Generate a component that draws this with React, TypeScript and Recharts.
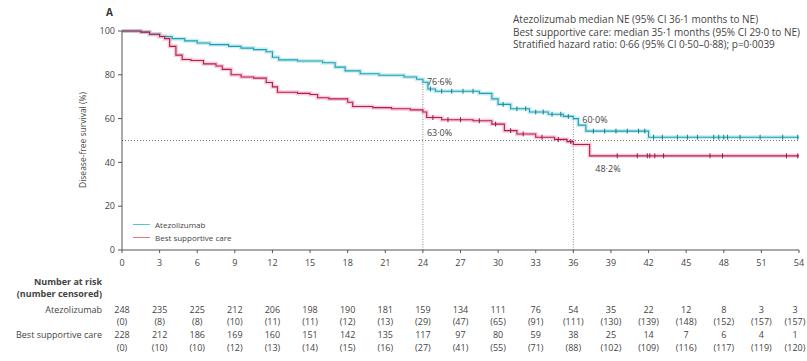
import React from "react";
import {
  ComposedChart,
  Line,
  Scatter,
  XAxis,
  YAxis,
  ReferenceLine,
  ReferenceDot,
  Legend,
} from "recharts";

// x-axis ticks (months)
const months = [0, 3, 6, 9, 12, 15, 18, 21, 24, 27, 30, 33, 36, 39, 42, 45, 48, 51, 54];
const yTicks = [0, 20, 40, 60, 80, 100];

// Kaplan-Meier steps
const atezoT = [0, 1.5, 2.2, 3.0, 4.0, 5.0, 6.0, 7.0, 8.5, 9.5, 10.5, 11.5, 12.0, 12.5, 14.0, 16.0, 17.0, 17.8, 19.0, 20.5, 22.5, 23.5, 24.0, 24.4, 25.0, 28.5, 29.5, 30.0, 31.0, 32.5, 34.0, 35.2, 36.0, 36.4, 37.0, 42.0, 54];
const atezoS = [100, 99.5, 98.5, 97.5, 96.5, 95.5, 94.5, 93.8, 93.0, 92.2, 91.5, 90.5, 88.0, 86.8, 86.3, 85.5, 83.5, 81.8, 80.5, 79.8, 79.0, 78.0, 76.6, 73.5, 72.5, 71.5, 69.0, 66.5, 64.5, 63.0, 62.0, 61.0, 60.0, 57.0, 54.3, 51.5, 51.5];

const bscT = [0, 1.5, 2.2, 3.0, 3.4, 3.8, 4.3, 4.8, 5.5, 6.5, 7.5, 8.0, 8.7, 9.5, 10.5, 11.5, 12.0, 12.4, 14.0, 15.0, 15.6, 16.5, 18.0, 18.4, 20.0, 21.5, 23.0, 24.0, 24.3, 25.5, 28.0, 29.5, 30.5, 31.5, 33.0, 34.5, 35.5, 36.0, 37.3, 54];
const bscS = [100, 99.5, 98.5, 97.5, 96.5, 93.0, 89.0, 87.0, 86.5, 85.0, 84.0, 82.5, 80.0, 79.0, 78.5, 76.5, 74.5, 72.0, 71.5, 71.0, 69.5, 69.0, 67.5, 65.5, 65.0, 64.5, 64.0, 63.0, 60.5, 59.5, 59.0, 57.5, 54.5, 53.0, 51.5, 50.5, 49.5, 48.2, 43.0, 43.0];

// censoring marks
const atezoCensT = [24.6, 25.5, 26.3, 27.2, 28.0, 30.4, 31.5, 32.2, 33.0, 33.6, 34.3, 35.0, 35.6, 37.6, 38.5, 39.4, 40.3, 41.2, 41.7, 42.4, 43.1, 44.3, 45.1, 45.9, 47.2, 47.6, 48.0, 48.3, 49.3, 50.9, 52.7, 53.9];
const atezoCensS = [73.5, 72.5, 72.5, 72.5, 72.5, 66.5, 64.5, 64.5, 63.0, 63.0, 62.0, 62.0, 61.0, 54.3, 54.3, 54.3, 54.3, 54.3, 54.3, 51.5, 51.5, 51.5, 51.5, 51.5, 51.5, 51.5, 51.5, 51.5, 51.5, 51.5, 51.5, 51.5];
const bscCensT = [24.8, 26.0, 27.0, 28.5, 29.8, 31.0, 32.0, 33.5, 34.8, 35.8, 39.5, 41.1, 41.9, 42.1, 42.5, 43.2, 46.9, 47.9, 53.0, 53.9];
const bscCensS = [60.5, 59.5, 59.5, 59.0, 57.5, 54.5, 53.0, 51.5, 50.5, 49.5, 43.0, 43.0, 43.0, 43.0, 43.0, 43.0, 43.0, 43.0, 43.0, 43.0];

// number at risk table
const atezoAtRisk = [248, 235, 225, 212, 206, 198, 190, 181, 159, 134, 111, 76, 54, 35, 22, 12, 8, 3, 3];
const atezoCensored = [0, 8, 8, 10, 11, 11, 12, 13, 29, 47, 65, 91, 111, 130, 139, 148, 152, 157, 157];
const bscAtRisk = [228, 212, 186, 169, 160, 151, 142, 135, 117, 97, 80, 59, 38, 25, 14, 7, 6, 4, 1];
const bscCensored = [0, 10, 10, 12, 13, 14, 15, 16, 27, 41, 55, 71, 88, 102, 109, 116, 117, 119, 120];

const seriesNames = ["Atezolizumab", "Best supportive care"];
const annotation = [
  "Atezolizumab median NE (95% CI 36·1 months to NE)",
  "Best supportive care: median 35·1 months (95% CI 29·0 to NE)",
  "Stratified hazard ratio: 0·66 (95% CI 0·50–0·88); p=0·0039",
];

const FONT = "'Open Sans', sans-serif";
const FS = 9;
const TEXT = "#444";
const CYAN = "#1f9db2";
const CYAN_HALO = "#8fd9e6";
const RED = "#b21f4b";
const RED_HALO = "#f28aa6";

const atezoData = atezoT.map((t, i) => ({ t, s: atezoS[i] }));
const bscData = bscT.map((t, i) => ({ t, s: bscS[i] }));
const atezoCens = atezoCensT.map((t, i) => ({ t, s: atezoCensS[i] }));
const bscCens = bscCensT.map((t, i) => ({ t, s: bscCensS[i] }));

const censorMark = (color: string) => (p: any) => (
  <line x1={p.cx} x2={p.cx} y1={p.cy - 2.5} y2={p.cy + 2.5} stroke={color} strokeWidth={1} />
);

const pctLabel = (text: string, dx: number, dy: number) => (p: any) => {
  const vb = p.viewBox || {};
  return (
    <text x={vb.x + dx} y={vb.y + dy} fontSize={FS} fill={TEXT} fontFamily={FONT} dominantBaseline="central">
      {text}
    </text>
  );
};

// month label plus the number-at-risk columns under it
const MonthTick = (props: any) => {
  const { x, y, payload } = props;
  const i = months.indexOf(payload.value);
  const t = { fontSize: FS, fill: TEXT, fontFamily: FONT, textAnchor: "middle" as const, dominantBaseline: "central" as const };
  const lx = x - 20;
  // keep the last column inside the picture
  const cx = i === months.length - 1 ? x - 4 : x;
  return (
    <g>
      <text x={x} y={y + 5} {...t}>{payload.value}</text>
      {i === 0 && (
        <g fontFamily={FONT} fontSize={FS} fill={TEXT} textAnchor="end" dominantBaseline="central">
          <text x={lx} y={y + 24} fontWeight="bold">Number at risk</text>
          <text x={lx} y={y + 36} fontWeight="bold">(number censored)</text>
          <text x={lx} y={y + 52}>{seriesNames[0]}</text>
          <text x={lx} y={y + 77}>{seriesNames[1]}</text>
        </g>
      )}
      <text x={cx} y={y + 52} {...t}>{atezoAtRisk[i]}</text>
      <text x={cx} y={y + 64} {...t}>({atezoCensored[i]})</text>
      <text x={cx} y={y + 77} {...t}>{bscAtRisk[i]}</text>
      <text x={cx} y={y + 90} {...t}>({bscCensored[i]})</text>
    </g>
  );
};

const LegendBox = () => (
  <div style={{ fontFamily: FONT, fontSize: 8, color: TEXT, lineHeight: "13px" }}>
    {[
      { name: seriesNames[0], color: "#5cc3d6" },
      { name: seriesNames[1], color: "#e8728f" },
    ].map((e) => (
      <div key={e.name} style={{ display: "flex", alignItems: "center", height: 13 }}>
        <span style={{ display: "inline-block", width: 17, borderTop: `1.5px solid ${e.color}`, marginRight: 5 }} />
        {e.name}
      </div>
    ))}
  </div>
);

export default function App() {
  return (
    <div style={{ position: "absolute", left: 0, top: 0, width: 807, height: 361, background: "#fff", overflow: "hidden" }}>
      <ComposedChart width={807} height={361} margin={{ top: 31, right: 8, bottom: 0, left: 92 }}>
        <XAxis
          dataKey="t"
          type="number"
          domain={[0, 54]}
          ticks={months}
          interval={0}
          allowDataOverflow
          stroke="#555"
          tick={<MonthTick />}
          tickSize={3}
          tickMargin={4}
          height={111}
        />
        <YAxis
          type="number"
          domain={[0, 100]}
          ticks={yTicks}
          width={30}
          stroke="#555"
          tick={{ fontSize: FS, fill: TEXT, fontFamily: FONT }}
          tickSize={4}
          tickMargin={3}
        />
        <ReferenceLine y={50} stroke="#777" strokeDasharray="1 2" />
        <ReferenceLine segment={[{ x: 24, y: 0 }, { x: 24, y: 76.6 }]} stroke="#888" strokeDasharray="1 1.5" />
        <ReferenceLine segment={[{ x: 36, y: 0 }, { x: 36, y: 60 }]} stroke="#888" strokeDasharray="1 1.5" />
        <Line data={atezoData} dataKey="s" type="stepAfter" stroke={CYAN_HALO} strokeOpacity={0.5} strokeWidth={4} dot={false} isAnimationActive={false} legendType="none" />
        <Line data={bscData} dataKey="s" type="stepAfter" stroke={RED_HALO} strokeOpacity={0.45} strokeWidth={4} dot={false} isAnimationActive={false} legendType="none" />
        <Line data={atezoData} dataKey="s" name={seriesNames[0]} type="stepAfter" stroke={CYAN} strokeWidth={1.1} dot={false} isAnimationActive={false} />
        <Line data={bscData} dataKey="s" name={seriesNames[1]} type="stepAfter" stroke={RED} strokeWidth={1.1} dot={false} isAnimationActive={false} />
        <Scatter data={atezoCens} dataKey="s" shape={censorMark("#17808f")} isAnimationActive={false} legendType="none" />
        <Scatter data={bscCens} dataKey="s" shape={censorMark("#8e1a3c")} isAnimationActive={false} legendType="none" />
        <ReferenceDot x={24} y={76.6} r={0} label={pctLabel("76·6%", 4, -1)} />
        <ReferenceDot x={24} y={63.0} r={0} label={pctLabel("63·0%", 4, 20)} />
        <ReferenceDot x={36} y={60.0} r={0} label={pctLabel("60·0%", 9, 1)} />
        <ReferenceDot x={36} y={48.2} r={0} label={pctLabel("48·2%", 22, 24)} />
        <Legend
          layout="vertical"
          align="center"
          verticalAlign="middle"
          content={<LegendBox />}
          wrapperStyle={{ left: 133, top: 218, width: 160 }}
        />
      </ComposedChart>
      <svg width={807} height={361} style={{ position: "absolute", left: 0, top: 0, pointerEvents: "none" }}>
        <text x={106} y={16} fontSize={10} fontWeight="bold" fill="#333" fontFamily={FONT}>A</text>
        <text transform="translate(82,140) rotate(-90)" textAnchor="middle" dominantBaseline="central" fontSize={8.5} fill={TEXT} fontFamily={FONT}>
          Disease-free survival (%)
        </text>
        {annotation.map((line, i) => (
          <text key={i} x={513} y={19 + i * 12.5} fontSize={10} fill={TEXT} fontFamily={FONT} dominantBaseline="central">
            {line}
          </text>
        ))}
      </svg>
    </div>
  );
}
